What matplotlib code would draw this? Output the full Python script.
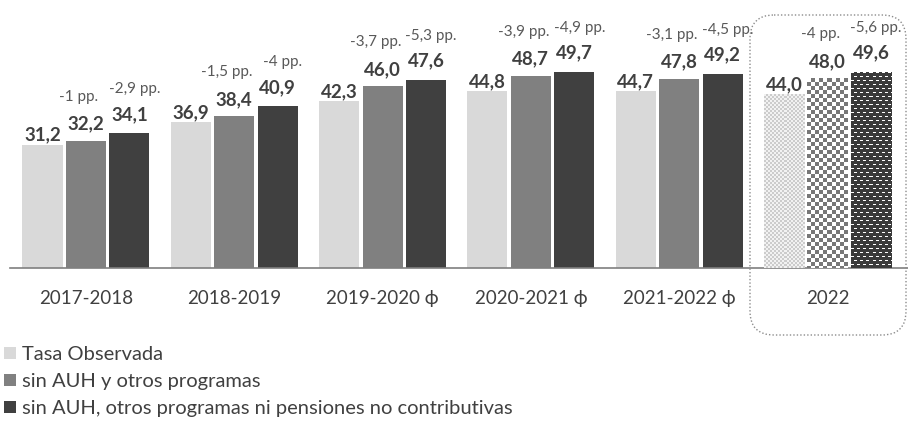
import numpy as np
import matplotlib
matplotlib.use("Agg")
import matplotlib.pyplot as plt
from matplotlib.patches import Patch, FancyBboxPatch

plt.rcParams['font.family'] = ['Lato', 'DejaVu Sans']

# ---- datos ------------------------------------------------------------------
periodos = ["2017-2018", "2018-2019", "2019-2020 ϕ", "2020-2021 ϕ", "2021-2022 ϕ", "2022"]
series = ["Tasa Observada",
          "sin AUH y otros programas",
          "sin AUH, otros programas ni pensiones no contributivas"]

tasa_obs = [31.2, 36.9, 42.3, 44.8, 44.7, 44.0]
sin_auh = [32.2, 38.4, 46.0, 48.7, 47.8, 48.0]
sin_auh_pnc = [34.1, 40.9, 47.6, 49.7, 49.2, 49.6]

dif_auh = ["-1 pp.", "-1,5 pp.", "-3,7 pp.", "-3,9 pp.", "-3,1 pp.", "-4 pp."]
dif_auh_pnc = ["-2,9 pp.", "-4 pp.", "-5,3 pp.", "-4,9 pp.", "-4,5 pp.", "-5,6 pp."]

colores = ["#d9d9d9", "#808080", "#404040"]
txt = "#404040"

# ---- figura -----------------------------------------------------------------
W, H = 908, 425
fig = plt.figure(figsize=(W / 100, H / 100), dpi=100)
ax = fig.add_axes([10 / W, 1 - 268 / H, 898 / W, 258 / H])

x = np.arange(len(periodos))
ancho = 0.27
desp = 0.293
valores = [tasa_obs, sin_auh, sin_auh_pnc]

barras = []
for k, vals in enumerate(valores):
    b = ax.bar(x + (k - 1) * desp, vals, ancho, color=colores[k], zorder=2)
    barras.append(b)

ax.set_xlim(-0.512, 5.543)
ax.set_ylim(0, 65.3)

for s in ["top", "right", "left"]:
    ax.spines[s].set_visible(False)
ax.spines["bottom"].set_color("#7f7f7f")
ax.spines["bottom"].set_linewidth(1.2)
ax.set_yticks([])
ax.set_xticks(x)
ax.set_xticklabels(periodos, fontsize=13.5, color=txt)
ax.tick_params(axis="x", length=0, pad=16)

# ---- texturas para 2022 -----------------------------------------------------
def textura(tipo, h, w):
    i, j = np.indices((h, w))
    if tipo == 0:
        m = ((i // 2 + j // 2) % 2).astype(float)
        c0, c1 = np.array([0.95, 0.95, 0.95]), np.array([0.80, 0.80, 0.80])
    elif tipo == 1:
        m = ((i // 4 + j // 4) % 2).astype(float)
        c0, c1 = np.array([1.0, 1.0, 1.0]), np.array([0.47, 0.47, 0.47])
    else:
        fila = (i % 4 == 0)
        col = ((j + (i // 4 % 2) * 3) % 6) < 3
        m = 1.0 - (fila & col).astype(float)
        c0, c1 = np.array([1.0, 1.0, 1.0]), np.array([0.23, 0.23, 0.23])
    return c0 * (1 - m[..., None]) + c1 * m[..., None]

for k, b in enumerate(barras):
    r = b.patches[-1]
    x0, y0 = r.get_x(), r.get_y()
    x1, y1 = x0 + r.get_width(), y0 + r.get_height()
    p0 = ax.transData.transform((x0, y0))
    p1 = ax.transData.transform((x1, y1))
    wpx, hpx = int(round(p1[0] - p0[0])), int(round(p1[1] - p0[1]))
    img = ax.imshow(textura(k, hpx, wpx), extent=(x0, x1, y0, y1),
                    aspect="auto", interpolation="nearest", zorder=3)
    img.set_clip_path(r)
    r.set_facecolor("none")
ax.set_xlim(-0.512, 5.543)
ax.set_ylim(0, 65.3)

# ---- etiquetas --------------------------------------------------------------
pads = [1, 8.5, 10.5]          # px sobre la barra
for k, vals in enumerate(valores):
    for i, v in enumerate(vals):
        ax.annotate(f"{v:.1f}".replace(".", ","), (x[i] + (k - 1) * desp, v),
                    xytext=(0, pads[k] * 0.72), textcoords="offset points",
                    ha="center", va="bottom", fontsize=13.5, fontweight="bold",
                    color=txt, annotation_clip=False)

# diferencias en pp. (corridas un poco a los lados para que no se pisen)
for k, difs, dx in [(1, dif_auh, -7), (2, dif_auh_pnc, 5)]:
    for i, d in enumerate(difs):
        ax.annotate(d, (x[i] + (k - 1) * desp, valores[k][i]),
                    xytext=(dx * 0.72, 37 * 0.72), textcoords="offset points",
                    ha="center", va="bottom", fontsize=11,
                    color="#595959", annotation_clip=False)

# ---- recuadro punteado 2022 -------------------------------------------------
ov = fig.add_axes([0, 0, 1, 1], facecolor="none")
ov.set_xlim(0, W)
ov.set_ylim(H, 0)
ov.axis("off")
ov.add_patch(FancyBboxPatch((750, 15), 156, 320,
                            boxstyle="round,pad=0,rounding_size=24",
                            fill=False, linestyle=(0, (1, 1.5)),
                            edgecolor="#8c8c8c", linewidth=1))

# ---- leyenda ----------------------------------------------------------------
handles = [Patch(facecolor=c, edgecolor="none") for c in colores]
fig.legend(handles, series, loc="upper left", bbox_to_anchor=(0.0, 1 - 342 / H),
           frameon=False, fontsize=14.5, handlelength=0.6, handleheight=0.6,
           handletextpad=0.3, labelspacing=0.5, borderaxespad=0,
           borderpad=0.2, labelcolor=txt)

fig.savefig("out.png", dpi=100)
